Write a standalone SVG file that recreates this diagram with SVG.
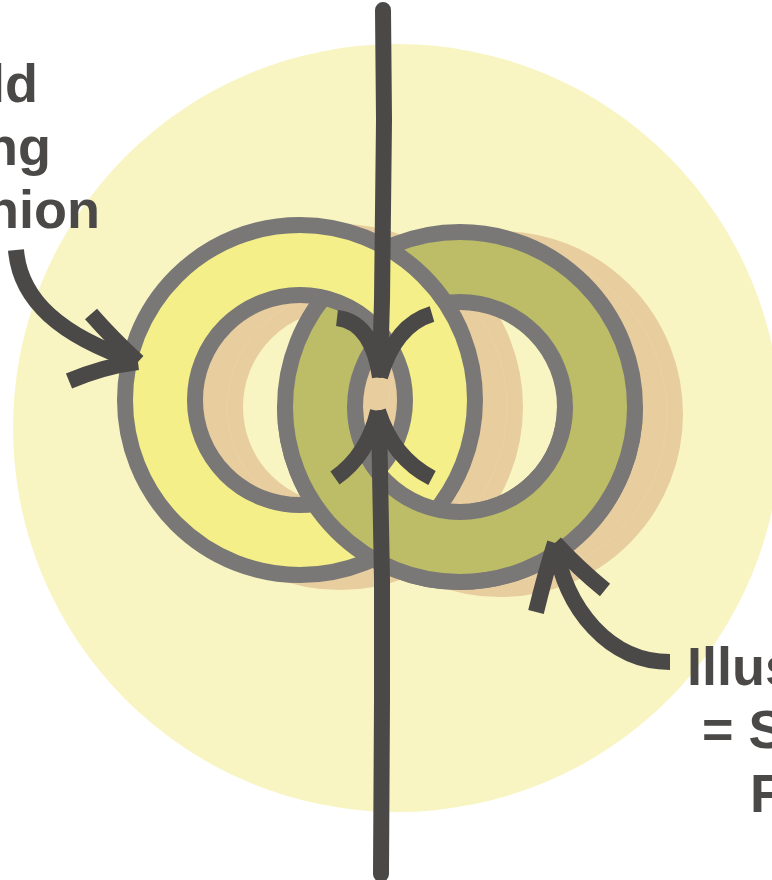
<svg xmlns="http://www.w3.org/2000/svg" xmlns:xlink="http://www.w3.org/1999/xlink" width="772" height="880" viewBox="0 0 772 880">
  <defs>
    <style>
      .gray { fill: none; stroke: #7a7877; stroke-width: 16; }
      .band-y { fill: none; stroke: #f4ef88; stroke-width: 55; }
      .band-o { fill: none; stroke: #bcbd66; stroke-width: 55; }
      .shadow { fill: none; stroke: #e8cd9f; stroke-width: 86; }
      .seam { fill: none; stroke: #ecd5ab; stroke-width: 0.6; }
      .brush { fill: none; stroke: #4a4947; stroke-width: 16; stroke-linecap: butt; stroke-linejoin: round; }
      .shaft { fill: none; stroke: #4a4947; stroke-width: 16; stroke-linecap: round; }
      .label { font-family: "Liberation Sans", Arial, sans-serif; font-weight: 700; font-size: 54px; fill: #4a4948; }
    </style>
    <clipPath id="bottom-half">
      <rect x="0" y="405" width="772" height="475"/>
    </clipPath>
  </defs>

  <!-- background disc -->
  <circle id="background" cx="397" cy="428" r="384" fill="#f8f5c3"/>

  <!-- shadows -->
  <g id="shadows">
    <circle class="shadow" cx="340" cy="407" r="140"/>
    <circle class="seam" cx="340" cy="407" r="113"/>
    <circle class="seam" cx="340" cy="407" r="167"/>
    <circle class="shadow" cx="500" cy="414" r="140"/>
    <circle class="seam" cx="500" cy="414" r="113"/>
    <circle class="seam" cx="500" cy="414" r="167"/>
  </g>

  <!-- right ring (olive) -->
  <g id="right-ring">
    <circle class="band-o" cx="460" cy="407" r="140"/>
    <circle class="gray" cx="460" cy="407" r="175"/>
    <circle class="gray" cx="460" cy="407" r="105"/>
  </g>

  <!-- left ring (yellow) -->
  <g id="left-ring">
    <circle class="band-y" cx="300" cy="400" r="140"/>
    <circle class="gray" cx="300" cy="400" r="175"/>
    <circle class="gray" cx="300" cy="400" r="105"/>
  </g>

  <!-- right ring passes over left ring at the bottom crossing -->
  <use id="right-ring-over" xlink:href="#right-ring" href="#right-ring" clip-path="url(#bottom-half)"/>

  <!-- connectors -->
  <g id="connectors">
    <!-- top vertical arrow pointing down -->
    <path class="shaft" d="M383,10 L384,120 L382,300 L380,370"/>
    <path class="brush" d="M337,318 Q372,322 380,377"/>
    <path class="brush" d="M432,314 Q395,325 380,377"/>
    <!-- bottom vertical arrow pointing up -->
    <path class="shaft" d="M381,874 L382,700 L382,580 L379,418"/>
    <path class="brush" d="M335,478 Q368,455 378,411"/>
    <path class="brush" d="M432,478 Q393,458 378,411"/>
    <!-- left curved arrow -->
    <path class="brush" d="M16,250 C20,300 60,336 138,362"/>
    <path class="brush" d="M91,314 Q112,338 138,362"/>
    <path class="brush" d="M69,381 Q105,366 138,362"/>
    <!-- bottom-right curved arrow -->
    <path class="brush" d="M670,662 C610,662 565,610 555,543"/>
    <path class="brush" d="M536,612 Q545,575 555,543"/>
    <path class="brush" d="M605,590 Q578,568 555,543"/>
  </g>

  <!-- labels (cut by the frame, as in the reference) -->
  <g id="label-left">
    <text class="label" x="38" y="102" text-anchor="end">ld</text>
    <text class="label" x="51" y="165" text-anchor="end">ng</text>
    <text class="label" x="100" y="228" text-anchor="end">nion</text>
  </g>
  <g id="label-right">
    <text class="label" x="687" y="685">Illus</text>
    <text class="label" x="702" y="748">= S</text>
    <text class="label" x="750" y="812">F</text>
  </g>
</svg>
